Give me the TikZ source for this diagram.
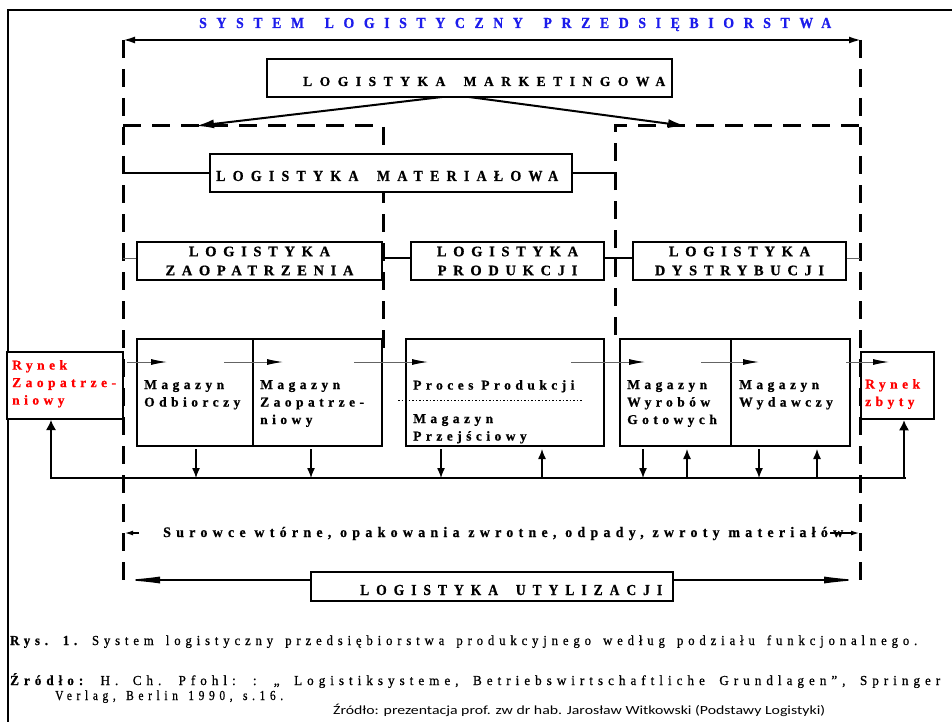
\documentclass[tikz,border=0pt]{standalone}
\usepackage{fontspec}
\usepackage{graphicx}
\setmainfont{Liberation Serif}
\newfontfamily\notefont{Carlito}
\usetikzlibrary{arrows.meta}
\definecolor{titleblue}{RGB}{28,28,235}
\definecolor{flowgray}{RGB}{100,100,100}
\definecolor{marketred}{RGB}{255,0,0}
% spaced, slightly heavier lettering
\newcommand\ls[1]{\addfontfeature{LetterSpace=#1,FakeBold=0.8}}
% wider gap between words
\newcommand\wgap{\hspace{0.55em}}
% set a line of text to a given width and cap height
\newcommand\capfit[4]{{#3\resizebox{#1pt}{#2pt}{\raisebox{0pt}[\fontcharht\font`H][0pt]{#4}}}}

\begin{document}
\begin{tikzpicture}[x=1pt,y=-1pt,
  frame/.style={line width=1.5pt},
  zone/.style={line width=3pt, dash pattern=on 18pt off 11pt},
  box/.style={draw, line width=1.2pt, fill=white, inner sep=0pt},
  lbl/.style={inner sep=0pt, font=\fontsize{13.5}{17.5}\selectfont\bfseries\ls{33}, align=left, anchor=north west},
  caps/.style={font=\fontsize{14.5}{19}\selectfont\bfseries\ls{46}, align=center},
  txt/.style={inner sep=0pt, anchor=base west},
  link/.style={line width=2pt},
  thinlink/.style={line width=1pt, flowgray},
  flow/.style={line width=1pt, flowgray, -{Latex[length=16pt,width=6pt,color=black]}},
  tick/.style={line width=1.3pt, -{Latex[length=10pt,width=8pt]}},
  bigarrow/.style={line width=1.5pt, -{Latex[length=36pt,width=7pt]}},
  smallarrow/.style={line width=1.2pt, -{Latex[length=8pt,width=5pt]}},
]
\useasboundingbox (0,0) rectangle (952,722);

% outer frame
\coordinate (fb) at (8,722);
\coordinate (ft) at (8,10);
\coordinate (fr) at (952,10);
\draw[frame] (fb) -- (ft) -- (fr);

% title and span arrow
\node[txt, text=titleblue] (title) at (199,28)
  {\capfit{632}{10}{\fontsize{15}{15}\selectfont\bfseries\ls{70}}{SYSTEM\wgap{} LOGISTYCZNY\wgap{} PRZEDSIĘBIORSTWA}};
\coordinate (spL) at (123,40);
\coordinate (spR) at (861,40);
\draw[line width=2pt, {Latex[length=12pt,width=7pt]}-{Latex[length=12pt,width=7pt]}] (spL) -- (spR);

% dashed zones
\coordinate (zLb) at (123,580);
\coordinate (zRt) at (860,40);
\coordinate (zRb) at (860,580);
\draw[zone] (spL) -- (zLb);
\draw[zone] (zRt) -- (zRb);
\coordinate (iLa) at (123,126);
\coordinate (iLb) at (383,126);
\coordinate (iLc) at (383,350);
\draw[zone] (iLa) -- (iLb) -- (iLc);
\coordinate (iRa) at (615,335);
\coordinate (iRb) at (615,126);
\coordinate (iRc) at (860,126);
\draw[zone] (iRa) -- (iRb) -- (iRc);

% marketing logistics
\node[box, minimum width=405pt, minimum height=38pt] (mkt) at (469.5,78) {};
\node[txt] (mkttxt) at (303,86)
  {\capfit{362}{9}{\fontsize{13}{13}\selectfont\bfseries\ls{56}}{LOGISTYKA\wgap{} MARKETINGOWA}};
\coordinate (mkA) at (442,97);
\coordinate (mkB) at (469,97);
\coordinate (mkL) at (196,126);
\coordinate (mkR) at (686,126);
\draw[line width=2pt, -{Latex[length=18pt,width=9pt]}] (mkA) -- (mkL);
\draw[line width=2pt, -{Latex[length=18pt,width=9pt]}] (mkB) -- (mkR);

% material logistics
\node[box, minimum width=362pt, minimum height=38pt] (mat) at (391,173) {};
\node[txt] (mattxt) at (216,181)
  {\capfit{342}{10}{\fontsize{14.5}{14.5}\selectfont\bfseries\ls{52}}{LOGISTYKA\wgap{} MATERIAŁOWA}};
\coordinate (matL) at (123,173);
\coordinate (matR) at (615,173);
\draw[link] (matL) -- (mat.west);
\draw[link] (mat.east) -- (matR);

% functional subsystems
\node[box, caps, minimum width=245pt, minimum height=38pt] (zao) at (259.5,261) {LOGISTYKA\\ZAOPATRZENIA};
\node[box, caps, minimum width=193pt, minimum height=38pt] (prod) at (507.5,261) {LOGISTYKA\\PRODUKCJI};
\node[box, caps, minimum width=213pt, minimum height=38pt] (dys) at (739.5,261) {LOGISTYKA\\DYSTRYBUCJI};
\coordinate (sbL) at (123,258);
\coordinate (sbR) at (860,258);
\draw[thinlink] (sbL) -- (sbL -| zao.west);
\draw[link] (sbL -| zao.east) -- (sbL -| prod.west);
\draw[link] (sbL -| prod.east) -- (sbL -| dys.west);
\draw[thinlink] (sbL -| dys.east) -- (sbR);

% markets
\node[box, line width=2pt, minimum width=116pt, minimum height=67pt] (rz) at (65,385.5) {};
\node[lbl, text=marketred] (rztxt) at (12,360) {Rynek\\Zaopatrze-\\niowy};
\node[box, line width=2.6pt, minimum width=73pt, minimum height=67pt] (rb) at (897.5,385.5) {};
\node[lbl, text=marketred] (rbtxt) at (865,379) {Rynek\\zbyty};

% warehouses and production
\node[box, minimum width=129pt, minimum height=107pt] (zmag) at (317.5,392.5) {};
\node[box, line width=2.2pt, minimum width=116pt, minimum height=107pt] (odb) at (195,392.5) {};
\node[box, minimum width=198pt, minimum height=107pt] (proc) at (505,392.5) {};
\node[box, minimum width=111pt, minimum height=107pt] (wyr) at (675.5,392.5) {};
\node[box, minimum width=119pt, minimum height=107pt] (wyd) at (790.5,392.5) {};

\node[lbl] (odbtxt) at (144,380) {Magazyn\\Odbiorczy};
\node[lbl] (zmagtxt) at (260,380) {Magazyn\\Zaopatrze-\\niowy};
\node[lbl] (proctxt) at (413,380) {Proces Produkcji};
\node[lbl] (przejtxt) at (413,414) {Magazyn\\Przejściowy};
\node[lbl] (wyrtxt) at (627,380) {Magazyn\\Wyrobów\\Gotowych};
\node[lbl] (wydtxt) at (739,380) {Magazyn\\Wydawczy};
\coordinate (dotL) at (398,400);
\coordinate (dotR) at (582,400);
\draw[line width=0.8pt, dash pattern=on 1.5pt off 2pt] (dotL) -- (dotR);

% material flow
\coordinate (f1a) at (127,362); \coordinate (f1b) at (167,362);
\coordinate (f2a) at (224,362); \coordinate (f2b) at (283,362);
\coordinate (f3a) at (354,362); \coordinate (f3b) at (428,362);
\coordinate (f4a) at (571,362); \coordinate (f4b) at (645,362);
\coordinate (f5a) at (701,362); \coordinate (f5b) at (759,362);
\coordinate (f6a) at (846,362); \coordinate (f6b) at (889,362);
\draw[flow] (f1a) -- (f1b);
\draw[flow] (f2a) -- (f2b);
\draw[flow] (f3a) -- (f3b);
\draw[flow] (f4a) -- (f4b);
\draw[flow] (f5a) -- (f5b);
\draw[flow] (f6a) -- (f6b);

% return bus
\coordinate (busL) at (51,478);
\coordinate (busR) at (904,478);
\coordinate (busE) at (906,478);
\coordinate (busS) at (50,478);
\draw[frame] (busS) -- (busE);
\draw[tick, -{Latex[length=10pt,width=10pt]}] (busL) -- (busL |- rz.south);
\draw[tick, -{Latex[length=10pt,width=10pt]}] (busR) -- (busR |- rb.south);
\coordinate (d1) at (196,449);
\coordinate (d2) at (311,449);
\coordinate (d3) at (441,449);
\coordinate (d4) at (643,449);
\coordinate (d5) at (759,449);
\foreach \d in {d1,d2,d3,d4,d5} \draw[tick] (\d) -- (\d |- busL);
\coordinate (u1) at (542,449);
\coordinate (u2) at (687,449);
\coordinate (u3) at (817,449);
\foreach \u in {u1,u2,u3} \draw[tick] (\u |- busL) -- (\u);

% returns
\node[txt] (ret) at (163,537)
  {\capfit{680}{9.5}{\fontsize{14}{14}\selectfont\bfseries\ls{38}}{Surowce wtórne, opakowania zwrotne, odpady, zwroty materiałów}};
\coordinate (rLa) at (139,533); \coordinate (rLb) at (125,533);
\coordinate (rRa) at (830,533); \coordinate (rRb) at (859,533);
\draw[smallarrow] (rLa) -- (rLb);
\draw[smallarrow] (rRa) -- (rRb);

% utilisation logistics
\node[box, minimum width=362pt, minimum height=29pt] (uty) at (492,586.5) {};
\node[txt] (utytxt) at (360,595)
  {\capfit{302}{10}{\fontsize{14}{14}\selectfont\bfseries\ls{52}}{LOGISTYKA\wgap{} UTYLIZACJI}};
\coordinate (utL) at (124,580);
\coordinate (utR) at (860,580);
\draw[bigarrow] (utL -| uty.west) -- (utL);
\draw[bigarrow] (utR -| uty.east) -- (utR);

% captions
\node[txt] (cap) at (10,645)
  {\capfit{907}{9}{\fontsize{13}{13}\selectfont\ls{38}\spaceskip=0.95em}{{\bfseries\ls{38}Rys. 1.} System logistyczny przedsiębiorstwa produkcyjnego według podziału funkcjonalnego.}};
\node[txt] (src) at (10,685)
  {\capfit{930}{9}{\fontsize{13}{13}\selectfont\ls{38}\spaceskip=1.1em}{{\bfseries\ls{38}Źródło:} H. Ch. Pfohl: : „ Logistiksysteme, Betriebswirtschaftliche Grundlagen”, Springer}};
\node[txt] (src2) at (55,700)
  {\capfit{228}{9}{\fontsize{13}{13}\selectfont\ls{40}\spaceskip=0.9em}{Verlag, Berlin 1990, s.16.}};
\node[txt] (note) at (333,714)
  {\capfit{492}{8}{\notefont\fontsize{12.5}{12.5}\selectfont}{Źródło: prezentacja prof. zw dr hab. Jarosław Witkowski (Podstawy Logistyki)}};
\end{tikzpicture}
\end{document}
